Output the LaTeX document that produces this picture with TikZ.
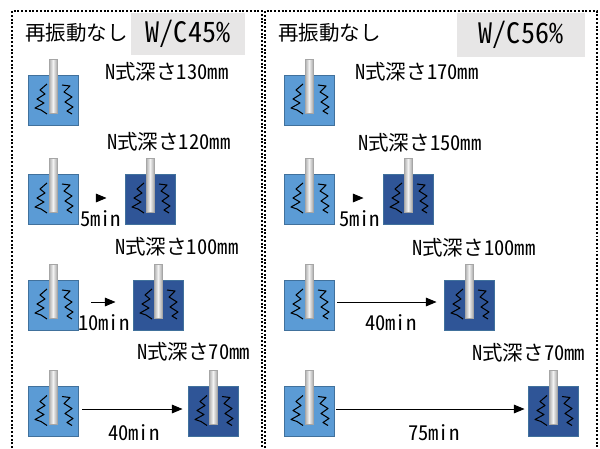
\documentclass[tikz,border=0pt]{standalone}
\usepackage{fontspec}
\setmainfont{Noto Sans CJK JP}[RawFeature=+hwid]
\usetikzlibrary{arrows.meta}

\definecolor{loosesoil}{HTML}{5B9BD5}
\definecolor{densesoil}{HTML}{2F5597}
\definecolor{soilline}{HTML}{41719C}
\definecolor{tagfill}{HTML}{E7E6E6}

\begin{document}
\begin{tikzpicture}[x=0.03cm,y=-0.03cm,
    soil/.style={rectangle,draw=soilline,line width=0.8pt,minimum width=1.5cm,minimum height=1.5cm,inner sep=0pt},
    loose/.style={soil,fill=loosesoil},
    dense/.style={soil,fill=densesoil},
    lbl/.style={anchor=west,inner sep=0pt,font=\fontsize{17.5}{20}\selectfont},
    wc/.style={fill=tagfill,inner sep=0pt,font=\fontsize{24}{28}\selectfont},
    panel/.style={line width=1.7pt,dash pattern=on 1.7pt off 1.5pt},
    arr/.style={line width=0.8pt,-{Triangle[length=3.2mm,width=2.6mm]}},
    rod/.style={draw=gray!70,line width=0.5pt,left color=gray!65,right color=gray!65,middle color=gray!10},
    coil/.style={line width=0.9pt,line join=round}]
    \useasboundingbox (0,0) rectangle (600,448);

    % dotted frames
    \draw[panel] (12,448) -- (12,11) -- (262,11) -- (262,448);
    \draw[panel] (265,448) -- (265,11) -- (597,11) -- (597,448);

    % headings
    \node at (188,34) [wc,minimum width=3.42cm,minimum height=1.26cm] (wc1) {W/C45\%};
    \node at (521,35) [wc,minimum width=3.84cm,minimum height=1.32cm] (wc2) {W/C56％};
    \node at (25,33) [lbl] (t1) {再振動なし};
    \node at (278,33) [lbl] (t2) {再振動なし};

    % left column
    \node at (53,100) [loose] (la1) {};
    \node at (53,199) [loose] (la2) {};
    \node at (150,199) [dense] (da2) {};
    \node at (53,305) [loose] (la3) {};
    \node at (158,305) [dense] (da3) {};
    \node at (53,411.5) [loose] (la4) {};
    \node at (213,411.5) [dense] (da4) {};

    % right column
    \node at (309,100) [loose] (lb1) {};
    \node at (309,199) [loose] (lb2) {};
    \node at (408,199) [dense] (db2) {};
    \node at (309,305) [loose] (lb3) {};
    \node at (469,305) [dense] (db3) {};
    \node at (309,411.5) [loose] (lb4) {};
    \node at (553,411.5) [dense] (db4) {};

    % vibrator rod and waves in every box
    \foreach \b in {la1,la2,da2,la3,da3,la4,da4,lb1,lb2,db2,lb3,db3,lb4,db4} {
        \begin{scope}[shift={(\b)}]
            \draw[coil] (-6,-16) -- (-13,-10) -- (-8,-6) -- (-16,-1) -- (-9,3) -- (-18,8) -- (-12,10) -- (-6,14);
            \draw[coil] (9,-15) -- (17,-14) -- (11,-8) -- (19,-3) -- (12,2) -- (20,7) -- (14,11) -- (19,14);
            \draw[rod] (-4,-41) rectangle (4,13);
        \end{scope}
    }

    % depth labels
    \node at (105,72) [lbl] (n1) {N式深さ130mm};
    \node at (107,142) [lbl] (n2) {N式深さ120mm};
    \node at (115,247) [lbl] (n3) {N式深さ100mm};
    \node at (137,352) [lbl] (n4) {N式深さ70mm};
    \node at (355,72) [lbl] (m1) {N式深さ170mm};
    \node at (358,143) [lbl] (m2) {N式深さ150mm};
    \node at (412,248) [lbl] (m3) {N式深さ100mm};
    \node at (472,353) [lbl] (m4) {N式深さ70mm};

    % time labels
    \node at (80,219) [lbl] (s2) {5min};
    \node at (78,323) [lbl] (s3) {10min};
    \node at (108,433) [lbl] (s4) {40min};
    \node at (339,219) [lbl] (r2) {5min};
    \node at (365,323) [lbl] (r3) {40min};
    \node at (408,433) [lbl] (r4) {75min};

    % arrows
    \draw[arr,shorten <=0.54cm,shorten >=0.54cm] ([yshift=0.03cm]la2.east) -- ([yshift=0.03cm]da2.west);
    \draw[arr,shorten <=0.39cm,shorten >=0.51cm] ([yshift=0.09cm]la3.east) -- ([yshift=0.09cm]da3.west);
    \draw[arr,shorten <=0.12cm,shorten >=0.15cm] ([yshift=0.075cm]la4.east) -- ([yshift=0.075cm]da4.west);
    \draw[arr,shorten <=0.57cm,shorten >=0.57cm] ([yshift=0.03cm]lb2.east) -- ([yshift=0.03cm]db2.west);
    \draw[arr,shorten <=0.09cm,shorten >=0.21cm] ([yshift=0.09cm]lb3.east) -- ([yshift=0.09cm]db3.west);
    \draw[arr,shorten <=0.06cm,shorten >=0.09cm] ([yshift=0.075cm]lb4.east) -- ([yshift=0.075cm]db4.west);
\end{tikzpicture}
\end{document}
